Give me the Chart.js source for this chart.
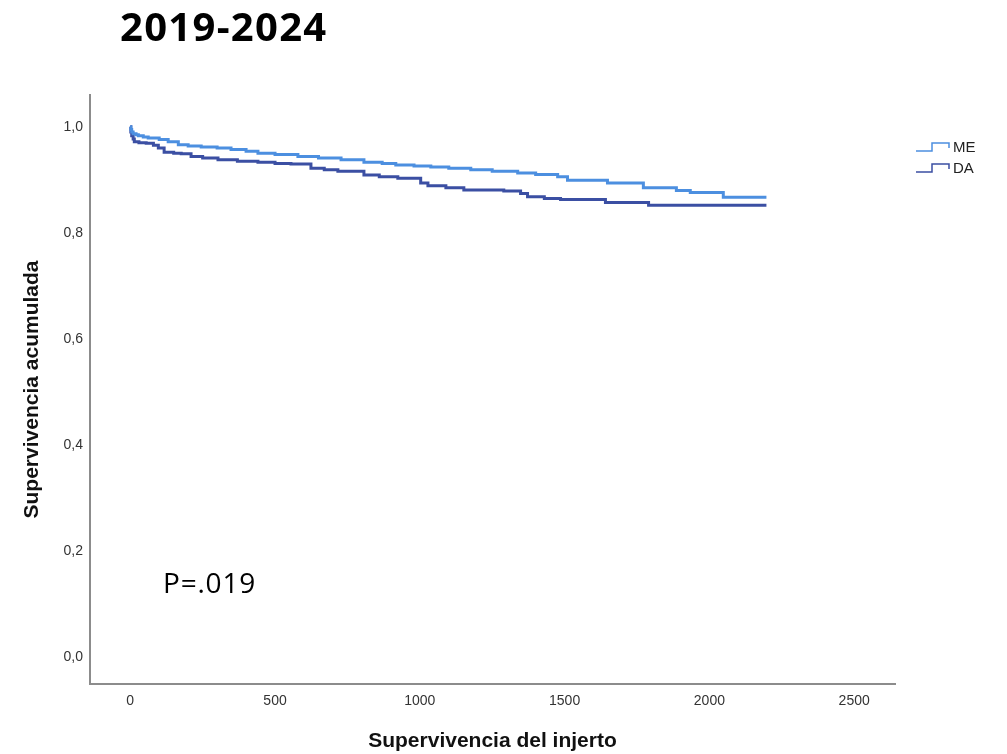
<!DOCTYPE html>
<html>
<head>
<meta charset="utf-8">
<script src="https://cdn.jsdelivr.net/npm/chart.js@4"></script>
<style>
html,body{margin:0;padding:0;background:#fff;}
#wrap{position:relative;width:1007px;height:754px;}
#title{position:absolute;left:120px;top:6px;font-family:"Open Sans","Liberation Sans",Arial,sans-serif;font-weight:bold;font-size:40px;line-height:1;letter-spacing:1.3px;color:#000;white-space:nowrap;}
#pval{position:absolute;left:163px;top:568px;font-family:"Open Sans","Liberation Sans",Arial,sans-serif;font-size:28px;line-height:1;letter-spacing:0.8px;color:#000;white-space:nowrap;}
canvas{position:absolute;left:0;top:0;}
</style>
</head>
<body>
<div id="wrap">
<canvas id="c" width="1007" height="754"></canvas>
<div id="title">2019-2024</div>
<div id="pval">P=.019</div>
</div>
<script>
// ---- data ----
const seriesNames = ["ME", "DA"];
const timeME = [0, 2, 5, 10, 20, 28, 45, 62, 100, 131, 166, 200, 245, 300, 348, 400, 441, 500, 579, 650, 728, 807, 870, 917, 980, 1038, 1100, 1176, 1250, 1338, 1400, 1476, 1510, 1648, 1772, 1886, 1934, 2048, 2197];
const survME = [1.0, 0.995, 0.99, 0.987, 0.985, 0.983, 0.981, 0.979, 0.976, 0.972, 0.966, 0.964, 0.962, 0.96, 0.957, 0.954, 0.95, 0.948, 0.944, 0.941, 0.938, 0.933, 0.931, 0.928, 0.926, 0.924, 0.922, 0.919, 0.916, 0.913, 0.91, 0.906, 0.899, 0.894, 0.885, 0.88, 0.876, 0.867, 0.867];
const timeDA = [0, 2, 5, 10, 14, 30, 55, 80, 97, 117, 150, 176, 210, 250, 303, 370, 441, 500, 555, 624, 670, 717, 807, 860, 924, 1003, 1028, 1090, 1152, 1290, 1348, 1372, 1430, 1486, 1641, 1790, 2197];
const survDA = [1.0, 0.99, 0.983, 0.977, 0.972, 0.970, 0.969, 0.965, 0.96, 0.952, 0.950, 0.949, 0.944, 0.941, 0.938, 0.935, 0.933, 0.931, 0.93, 0.922, 0.919, 0.916, 0.909, 0.906, 0.903, 0.894, 0.889, 0.885, 0.881, 0.879, 0.874, 0.868, 0.865, 0.863, 0.857, 0.852, 0.852];
const xTicks = [0, 500, 1000, 1500, 2000, 2500];
const yTicks = [0, 0.2, 0.4, 0.6, 0.8, 1.0];

const colME = "#4c8fe0";
const colDA = "#3b4fa3";
const fontFam = '"Liberation Sans", Arial, sans-serif';

function pts(t, s){ return t.map((v,i)=>({x:v, y:s[i]})); }

const legendPlugin = {
  id: 'kmLegend',
  afterDraw(chart){
    const ctx = chart.ctx;
    const items = [{name: seriesNames[0], color: colME, y: 151}, {name: seriesNames[1], color: colDA, y: 172}];
    ctx.save();
    items.forEach(it=>{
      ctx.strokeStyle = it.color;
      ctx.lineWidth = 1.5;
      ctx.beginPath();
      ctx.moveTo(916, it.y);
      ctx.lineTo(932, it.y);
      ctx.lineTo(932, it.y-8);
      ctx.lineTo(949, it.y-8);
      ctx.lineTo(949, it.y-3);
      ctx.stroke();
      ctx.fillStyle = "#222";
      ctx.font = '15px ' + fontFam;
      ctx.textBaseline = 'alphabetic';
      ctx.textAlign = 'left';
      ctx.fillText(it.name, 953, it.y+1);
    });
    ctx.restore();
  }
};

new Chart(document.getElementById('c'), {
  type: 'line',
  data: {
    datasets: [
      {label: seriesNames[0], data: pts(timeME, survME), borderColor: colME, borderWidth: 3, stepped: 'before', pointRadius: 0, fill: false},
      {label: seriesNames[1], data: pts(timeDA, survDA), borderColor: colDA, borderWidth: 3, stepped: 'before', pointRadius: 0, fill: false}
    ]
  },
  options: {
    responsive: false,
    animation: false,
    layout: {padding: {left: 0, right: 112, top: 95, bottom: 0}},
    plugins: {legend: {display: false}, tooltip: {enabled: false}},
    scales: {
      x: {
        type: 'linear', min: -139, max: 2641,
        afterBuildTicks(s){ s.ticks = xTicks.map(v=>({value:v})); },
        afterFit(s){ s.height = 70; },
        grid: {display: false, drawTicks: false},
        border: {display: true, color: '#8c8c8c', width: 2},
        ticks: {padding: 9, color: '#333', font: {family: fontFam, size: 14}, callback: v=>String(v), maxRotation: 0},
        title: {display: true, text: 'Supervivencia del injerto', color: '#111', font: {family: fontFam, size: 21, weight: 'bold'}, padding: {top: 0, bottom: 0}}
      },
      y: {
        type: 'linear', min: -0.051, max: 1.06,
        afterBuildTicks(s){ s.ticks = yTicks.map(v=>({value:v})); },
        afterFit(s){ s.width = 90; },
        grid: {display: false, drawTicks: false},
        border: {display: true, color: '#8c8c8c', width: 2},
        ticks: {padding: 7, color: '#333', font: {family: fontFam, size: 14}, callback: v=>v.toFixed(1).replace('.', ',')},
        title: {display: true, text: 'Supervivencia acumulada', color: '#111', font: {family: fontFam, size: 21, weight: 'bold'}, padding: {top: 20, bottom: 0}}
      }
    }
  },
  plugins: [legendPlugin]
});
</script>
</body>
</html>
